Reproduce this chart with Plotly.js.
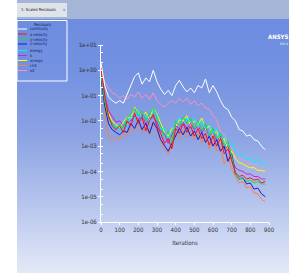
<!DOCTYPE html>
<html><head><meta charset="utf-8">
<script src="https://cdn.plot.ly/plotly-3.0.1.min.js"></script>
<style>
html,body{margin:0;padding:0;background:#fff;width:292px;height:275px;overflow:hidden;}
#bg{position:absolute;left:17px;top:0;width:272px;height:273px;background:linear-gradient(to bottom,#6b8be0 0%,#7391e1 25%,#8ca3e3 50%,#bccaef 78%,#e4e9f7 100%);}
#bar{position:absolute;left:17px;top:0;width:272px;height:19px;background:#a4b5d8;}
#dd{position:absolute;left:17px;top:3px;width:50px;height:14px;background:#dfe3ea;}
#chart{position:absolute;left:0;top:0;width:292px;height:275px;}
</style></head>
<body>
<div id="bg"></div><div id="bar"></div><div id="dd"></div>
<div id="chart"></div>
<script>
// ---- data ----
const iterations = [0,20,40,60,80,100,120,140,160,180,200,220,240,260,280,300,320,340,360,380,400,420,440,460,480,500,520,540,560,580,600,620,640,660,680,700,720,740,760,780,800,820,840,860,880];
const seriesNames = ["continuity","x-velocity","y-velocity","z-velocity","energy","k","omega","ch4","o2"];
const seriesColors = ["#ffffff","#ff1010","#10e040","#1818d0","#00f0ff","#d020d0","#ffff00","#ff8040","#ff90c0"];
const continuity = [2.0,0.25,0.089,0.063,0.05,0.063,0.05,0.11,0.28,0.56,0.79,0.28,0.5,0.35,1.0,0.35,0.18,0.11,0.16,0.1,0.25,0.4,0.22,0.14,0.2,0.13,0.25,0.2,0.45,0.13,0.25,0.14,0.063,0.035,0.028,0.014,0.01,4.5e-3,4e-3,2.5e-3,2.8e-3,1.8e-3,1.6e-3,1e-3,7.1e-4];
const xVelocity = [1.26,0.1,0.016,6.3e-3,4.5e-3,6.3e-3,3.5e-3,1e-2,6.3e-3,2e-2,7.9e-3,1.4e-2,4e-3,1e-2,1.8e-2,6.3e-3,3.2e-3,1.3e-3,2e-3,7.9e-4,5e-3,3.2e-3,7.9e-3,3.5e-3,6.3e-3,2.5e-3,5e-3,2e-3,3.2e-3,1.1e-3,2.5e-3,1e-3,2e-3,5e-4,7.9e-4,2.5e-4,8.9e-5,6.3e-5,7.1e-5,5e-5,5.6e-5,4.5e-5,5e-5,3.5e-5,4e-5];
const yVelocity = [0.63,0.063,1.3e-2,7.9e-3,5e-3,7.1e-3,5e-3,1.3e-2,1.8e-2,3.2e-2,1.6e-2,2.5e-2,1e-2,2e-2,3.2e-2,1.3e-2,6.3e-3,2.5e-3,4e-3,1.4e-3,1e-2,6.3e-3,1.4e-2,7.9e-3,1.3e-2,5e-3,1e-2,4e-3,7.9e-3,2.5e-3,5e-3,2e-3,3.2e-3,1e-3,1.6e-3,4e-4,7.9e-5,5e-5,5.6e-5,4e-5,4.5e-5,3.5e-5,4e-5,3.2e-5,3.2e-5];
const zVelocity = [0.5,0.04,7.9e-3,4.5e-3,3.5e-3,2.8e-3,4e-3,3.5e-3,7.9e-3,5e-3,1.1e-2,4.5e-3,7.9e-3,3.2e-3,8.9e-3,5e-3,1.8e-3,1e-3,6.3e-4,1.3e-3,2.5e-3,5e-3,2.8e-3,5.6e-3,2.5e-3,4e-3,1.8e-3,3.5e-3,1.4e-3,2.5e-3,1e-3,1.8e-3,6.3e-4,1e-3,2.5e-4,5e-4,7.9e-5,5e-5,5.6e-5,3.2e-5,3.5e-5,2e-5,2.2e-5,1.3e-5,1e-5];
const energy = [0.5,0.05,1.3e-2,5.6e-3,6.3e-3,4e-3,7.9e-3,6.3e-3,1.6e-2,1.1e-2,2.5e-2,1.1e-2,1.8e-2,7.9e-3,2.8e-2,1.6e-2,4.5e-3,5e-3,1.8e-3,4e-3,8.9e-3,1.4e-2,7.1e-3,1.3e-2,8.9e-3,1.3e-2,5.6e-3,1e-2,5e-3,7.1e-3,3.2e-3,5e-3,1.8e-3,2.5e-3,1e-3,1.3e-3,5.6e-4,4e-4,5e-4,2.8e-4,3.5e-4,2.2e-4,3.2e-4,1.8e-4,2.5e-4];
const kResid = [0.79,0.1,2.5e-2,1.4e-2,8.9e-3,1e-2,6.3e-3,8.9e-3,1e-2,1.6e-2,1.1e-2,1.8e-2,7.1e-3,1.3e-2,1.4e-2,8.9e-3,4e-3,3.2e-3,1.3e-3,2.8e-3,6.3e-3,5e-3,8.9e-3,5e-3,7.9e-3,4.5e-3,6.3e-3,3.5e-3,5.6e-3,2.5e-3,3.5e-3,1.6e-3,2.5e-3,7.9e-4,1e-3,3.2e-4,1.4e-4,1.1e-4,1e-4,7.9e-5,7.9e-5,6.3e-5,6.3e-5,5e-5,5e-5];
const omega = [0.79,7.9e-2,2e-2,1e-2,7.1e-3,5.6e-3,8.9e-3,1.4e-2,1.3e-2,3.5e-2,2e-2,1.6e-2,2.2e-2,1.1e-2,3.2e-2,1.8e-2,7.9e-3,3.5e-3,2.5e-3,5e-3,5.6e-3,1.1e-2,1e-2,1.6e-2,6.3e-3,1e-2,7.1e-3,1.3e-2,4.5e-3,6.3e-3,2.8e-3,4e-3,1.4e-3,2e-3,7.1e-4,6.3e-4,3.2e-4,2.2e-4,2e-4,1.6e-4,1.4e-4,1.4e-4,1.1e-4,1.1e-4,1e-4];
const ch4 = [2.0,2.5e-2,2.5e-3,1.6e-3,2.2e-3,1.8e-3,3.2e-3,2.5e-3,5.6e-3,4e-3,1e-2,3.5e-3,5.6e-3,2.8e-3,7.9e-3,4e-3,1.6e-3,7.9e-4,5e-4,1.1e-3,3.2e-3,2e-3,4e-3,2.2e-3,3.5e-3,1.8e-3,3.2e-3,1.3e-3,2.5e-3,7.9e-4,1.6e-3,6.3e-4,1e-3,2e-4,4e-4,1.3e-4,6.3e-5,3.5e-5,4e-5,2.2e-5,2.5e-5,1.4e-5,1.3e-5,7.9e-6,6.3e-6];
const o2 = [1.0,0.35,0.2,0.13,0.11,0.079,0.1,0.071,0.11,0.089,0.14,0.079,0.11,0.071,0.13,0.063,0.045,0.035,0.05,0.063,0.05,0.079,0.056,0.079,0.045,0.063,0.04,0.05,0.032,0.028,0.016,0.011,4e-3,2.8e-3,1.3e-3,8.9e-4,4e-4,3.2e-4,2.8e-4,2e-4,2e-4,1.4e-4,1.4e-4,1e-4,8.9e-5];
const seriesValues = [continuity,xVelocity,yVelocity,zVelocity,energy,kResid,omega,ch4,o2];
const yTickVals = [1e-6,1e-5,1e-4,1e-3,1e-2,1e-1,1,10];
const yTickText = ["1e-06","1e-05","1e-04","1e-03","1e-02","1e-01","1e+00","1e+01"];
const xTickVals = [0,100,200,300,400,500,600,700,800,900];

// ---- layout helpers (pixel -> paper) ----
const PL=101, PW=168, PB=222, PH=177;
const px = x => (x-PL)/PW;
const py = y => (PB-y)/PH;
const FONT = "'Liberation Sans Narrow','DejaVu Sans Condensed',Arial,sans-serif";

// draw order: others first, continuity last on top
const order = [8,7,6,5,4,3,2,1,0];
const traces = order.map(i => ({
  x: iterations, y: seriesValues[i], name: seriesNames[i], type:'scatter', mode:'lines',
  line:{color:seriesColors[i], width:1}, showlegend:false, hoverinfo:'skip'
}));

const legendRowsY = [29,34,39,44,50.5,55.5,60.5,65.5,70.5];
const shapes = [
  {type:'rect', xref:'paper', yref:'paper', x0:px(17), x1:px(67), y0:py(81), y1:py(20.5), line:{color:'#ffffff', width:1}, fillcolor:'rgba(0,0,0,0)'}
];
const annotations = [
  {text:'1: Scaled Residuals', x:px(18.5), y:py(10), xanchor:'left', yanchor:'middle', font:{size:4, color:'#222', family:FONT}},
  {text:'v', x:px(64), y:py(10), xanchor:'center', yanchor:'middle', font:{size:4, color:'#333', family:FONT}},
  {text:'Residuals', x:px(42), y:py(24), xanchor:'center', yanchor:'middle', font:{size:4, color:'#102060', family:FONT}},
  {text:'<b>ANSYS</b>', x:px(290), y:py(37), xanchor:'right', yanchor:'middle', font:{size:6, color:'#ffffff', family:FONT}},
  {text:'R15.0', x:px(290), y:py(43.5), xanchor:'right', yanchor:'middle', font:{size:3, color:'#ffffff', family:FONT}}
];
seriesNames.forEach((n,i) => {
  const y = legendRowsY[i];
  shapes.push({type:'line', xref:'paper', yref:'paper', x0:px(18), x1:px(27), y0:py(y), y1:py(y), line:{color:seriesColors[i], width:1}});
  annotations.push({text:n, x:px(28), y:py(y), xanchor:'left', yanchor:'middle', font:{size:4, color:'#102060', family:FONT}});
});
annotations.forEach(a => { a.xref='paper'; a.yref='paper'; a.showarrow=false; });

const layout = {
  width:292, height:275, autosize:false,
  margin:{l:PL, r:292-PL-PW, t:PB-PH, b:275-PB, pad:0},
  paper_bgcolor:'rgba(0,0,0,0)', plot_bgcolor:'rgba(0,0,0,0)',
  showlegend:false,
  font:{family:FONT, size:6, color:'#333'},
  xaxis:{range:[0,900], tickvals:xTickVals, showline:true, linecolor:'#ffffff', linewidth:1,
    ticks:'outside', ticklen:2, tickcolor:'#ffffff', showgrid:false, zeroline:false,
    tickfont:{size:6, color:'#333', family:FONT},
    title:{text:'Iterations', font:{size:6, color:'#333', family:FONT}, standoff:8}},
  yaxis:{type:'log', range:[-6,1], tickvals:yTickVals, ticktext:yTickText, showline:true,
    linecolor:'#ffffff', linewidth:1, ticks:'outside', ticklen:2, tickcolor:'#ffffff',
    showgrid:false, zeroline:false, tickfont:{size:6, color:'#333', family:FONT},
    minor:{ticks:'inside', ticklen:2, tickcolor:'#ffffff', showgrid:false}},
  shapes: shapes, annotations: annotations
};
Plotly.newPlot('chart', traces, layout, {displayModeBar:false, staticPlot:true});
</script>
</body></html>
